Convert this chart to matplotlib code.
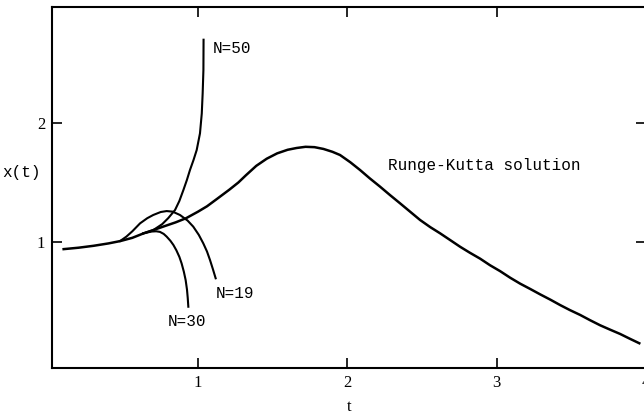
import matplotlib
matplotlib.use("Agg")
import matplotlib.pyplot as plt

# courbe de reference (Runge-Kutta)
t_rk = [0.10, 0.20, 0.30, 0.40, 0.48, 0.56, 0.63, 0.70, 0.78, 0.85, 0.92, 1.00,
        1.06, 1.13, 1.21, 1.27, 1.32, 1.39, 1.46, 1.53, 1.60, 1.66, 1.72, 1.78,
        1.84, 1.90, 1.951, 2.02, 2.085, 2.15, 2.219, 2.285, 2.353, 2.42, 2.487,
        2.555, 2.621, 2.69, 2.755, 2.82, 2.889, 2.955, 3.023, 3.09, 3.157, 3.225,
        3.291, 3.36, 3.425, 3.49, 3.559, 3.625, 3.693, 3.76, 3.827, 3.89, 3.955]
x_rk = [0.94, 0.952, 0.968, 0.988, 1.008, 1.035, 1.07, 1.10, 1.135, 1.165, 1.20, 1.255,
        1.30, 1.365, 1.44, 1.50, 1.56, 1.64, 1.70, 1.745, 1.775, 1.79, 1.80, 1.797,
        1.782, 1.758, 1.731, 1.67, 1.605, 1.535, 1.465, 1.395, 1.325, 1.255, 1.185,
        1.125, 1.073, 1.015, 0.96, 0.91, 0.86, 0.805, 0.755, 0.70, 0.65, 0.605,
        0.56, 0.515, 0.47, 0.428, 0.387, 0.343, 0.30, 0.263, 0.227, 0.188, 0.149]

# series N
t_n19 = [0.478, 0.52, 0.56, 0.612, 0.66, 0.70, 0.75, 0.79, 0.83, 0.879, 0.93, 0.968,
         1.005, 1.035, 1.06, 1.08, 1.10, 1.118]
x_n19 = [1.008, 1.045, 1.09, 1.157, 1.20, 1.227, 1.252, 1.26, 1.255, 1.227, 1.18, 1.129,
         1.06, 0.989, 0.92, 0.849, 0.77, 0.695]

t_n50 = [0.634, 0.70, 0.76, 0.80, 0.846, 0.875, 0.902, 0.925, 0.946, 0.97, 0.991, 1.013,
         1.025, 1.031, 1.036, 1.037]
x_n50 = [1.073, 1.10, 1.15, 1.20, 1.269, 1.345, 1.437, 1.52, 1.605, 1.69, 1.773, 1.913,
         2.08, 2.25, 2.445, 2.70]

t_n30 = [0.634, 0.66, 0.69, 0.72, 0.745, 0.77, 0.79, 0.815, 0.835, 0.855, 0.875, 0.89,
         0.905, 0.917, 0.926, 0.931, 0.935]
x_n30 = [1.073, 1.08, 1.088, 1.09, 1.085, 1.068, 1.045, 1.01, 0.975, 0.93, 0.875, 0.82,
         0.75, 0.68, 0.60, 0.53, 0.456]

xticks = [1, 2, 3, 4]
yticks = [1, 2]

font = "Liberation Mono"

fig = plt.figure(figsize=(6.44, 4.16), dpi=100)
ax = fig.add_axes([52/644, 1 - 368/416, 594/644, 361/416])

ax.plot(t_rk, x_rk, color="black", lw=1.8, solid_joinstyle="round")
for tt, xx in [(t_n19, x_n19), (t_n50, x_n50), (t_n30, x_n30)]:
    ax.plot(tt, xx, color="black", lw=1.5, solid_joinstyle="round")

ax.text(1.10, 2.63, "N=50", fontsize=11.5, family=font, va="center")
ax.text(1.118, 0.57, "N=19", fontsize=11.5, family=font, va="center")
ax.text(0.80, 0.33, "N=30", fontsize=11.5, family=font, va="center")
ax.text(2.27, 1.64, "Runge-Kutta solution", fontsize=11.5, family=font, va="center")

ax.set_xlim(0.022, 4.0)
ax.set_ylim(-0.059, 2.975)
ax.set_xticks(xticks)
ax.set_yticks(yticks)
ax.tick_params(direction="in", length=7, width=1.2, top=True, right=True,
               labelsize=12, pad=5)
for lab in ax.get_xticklabels() + ax.get_yticklabels():
    lab.set_family("Liberation Serif")
for s in ax.spines.values():
    s.set_linewidth(1.5)

ax.set_xlabel("t", fontsize=12, family="Liberation Serif", labelpad=6)
fig.text(22/644, 1 - 172/416, "x(t)", fontsize=11.5, family=font,
         ha="center", va="center")

fig.savefig("out.png", dpi=100)
